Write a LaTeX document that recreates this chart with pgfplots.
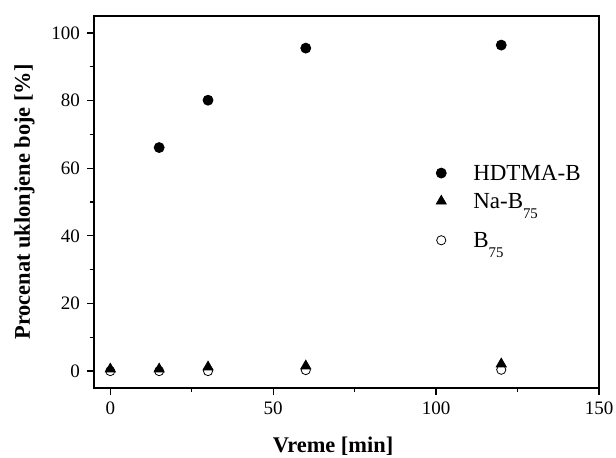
\documentclass[border=0pt]{standalone}
\usepackage{pgfplots}
\pgfplotsset{compat=1.18}
\usepackage{fontspec}
\setmainfont{Liberation Serif}
\newcommand{\sub}[1]{\raisebox{-5pt}{\fontsize{7.4}{8}\selectfont #1}}

\begin{document}
\begin{tikzpicture}
\begin{axis}[
  scale only axis,
  width=252.5pt, height=186pt,
  xmin=-5, xmax=150, ymin=-5, ymax=105,
  xtick={0,50,100,150}, ytick={0,20,...,100},
  minor xtick={25,75,125}, minor ytick={10,30,...,90},
  tick align=outside, major tick length=3.5pt, minor tick length=2pt,
  xtick pos=bottom, ytick pos=left,
  axis line style={line width=0.8pt},
  tick style={line width=0.6pt, black},
  tick label style={font=\fontsize{9.5}{11}\selectfont},
  /pgf/number format/assume math mode=true,
  xlabel={\textbf{Vreme [min]}},
  ylabel={\textbf{Procenat uklonjene boje [\%]}},
  label style={font=\fontsize{11.2}{13}\selectfont},
  xlabel style={at={(axis description cs:0.4733,-0.156)}, anchor=center},
  ylabel style={at={(axis description cs:-0.1376,0.5)}, anchor=center},
  legend cell align=left,
  legend style={draw=none, fill=none, at={(axis description cs:0.675,0.61)},
    anchor=north west, inner sep=0pt, nodes={text depth=},
    cells={anchor=base west},
    font=\fontsize{11.5}{13}\selectfont, row sep=2.5pt},
  legend image code/.code={
    \path[draw=none] (-3pt,0pt) rectangle (14pt,7pt);
    \draw[#1] plot coordinates {(0pt,3.8pt)};},
]
\addplot[only marks, mark=*, mark size=2.5pt, black] coordinates {
  (15,66.1) (30,80.1) (60,95.5) (120,96.4)};
\addlegendentry{HDTMA-B}
\addplot[only marks, mark=triangle*, mark size=2.9pt, black] coordinates {
  (0,0.6) (15,0.6) (30,1.2) (60,1.5) (120,2.1)};
\addlegendentry{Na-B\sub{75}\rule[-5.5pt]{0pt}{1pt}}
\addplot[only marks, mark=o, mark size=2.3pt, black, mark options={fill=white}] coordinates {
  (0,0) (15,0) (30,0) (60,0.3) (120,0.4)};
\addlegendentry{B\sub{75}}
\coordinate (sw) at (rel axis cs:0,0);
\coordinate (ne) at (rel axis cs:1,1);
\end{axis}
\pgfresetboundingbox
\path ([shift={(-47pt,-34.5pt)}]sw) rectangle ([shift={(8.5pt,8pt)}]ne);
\end{tikzpicture}
\end{document}
